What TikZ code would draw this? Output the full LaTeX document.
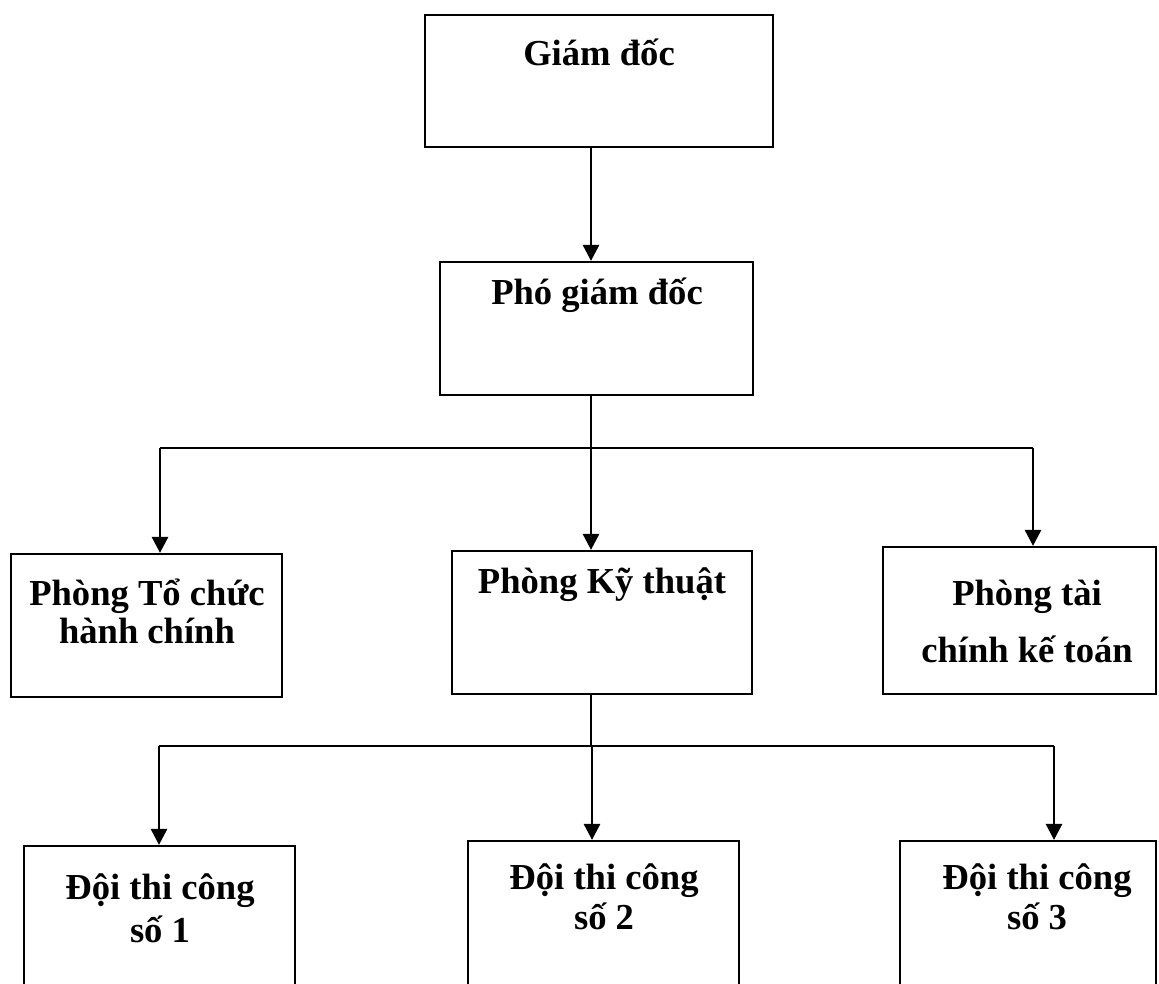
\documentclass[tikz,border=0pt]{standalone}
\usepackage{fontspec}
\setmainfont{Liberation Serif}
\usetikzlibrary{arrows.meta}

\tikzset{
  box/.style={draw=black,line width=1.1pt,inner sep=0pt,rectangle},
  lbl/.style={font=\fontsize{18.3}{20}\selectfont\bfseries,align=center,inner sep=0pt},
  arr/.style={draw=black,line width=1.4pt,-{Triangle[length=8pt,width=8pt]}},
  link/.style={draw=black,line width=1pt}
}

\begin{document}
\begin{tikzpicture}[x=0.5pt,y=-0.5pt]
    \useasboundingbox (0,0) rectangle (1159,983);
    % boxes
    \node[box,minimum width=174pt,minimum height=66pt] (gd) at (599,81) {};
    \node[box,minimum width=156.5pt,minimum height=66.5pt] (pgd) at (596.5,328.5) {};
    \node[box,minimum width=135.5pt,minimum height=71.5pt] (tc) at (146.5,625.5) {};
    \node[box,minimum width=150pt,minimum height=71.5pt] (kt) at (602,622.5) {};
    \node[box,minimum width=136.5pt,minimum height=73.5pt] (tcke) at (1019.5,620.5) {};
    \node[box,minimum width=135.5pt,minimum height=82pt] (d1) at (159.5,928) {};
    \node[box,minimum width=135.5pt,minimum height=84.5pt] (d2) at (603.5,925.5) {};
    \node[box,minimum width=128pt,minimum height=84.5pt] (d3) at (1028,925.5) {};
    % texts
    \node[lbl] (gd-t) at (599,52) {Giám đốc};
    \node[lbl] (pgd-t) at (597,295) {Phó giám đốc};
    \node[lbl] (tc-t) at (147,611) {Phòng Tổ chức\\[-1pt]hành chính};
    \node[lbl] (kt-t) at (602,585) {Phòng Kỹ thuật};
    \node[lbl] (tcke-t) at (1027,621) {Phòng tài\\[8.5pt]chính kế toán};
    \node[lbl] (d1-t) at (160,908) {Đội thi công\\[1.5pt]số 1};
    \node[lbl] (d2-t) at (604,897) {Đội thi công\\số 2};
    \node[lbl] (d3-t) at (1037,897) {Đội thi công\\số 3};
    % junctions
    \coordinate (j1) at (591,448);
    \coordinate (j1l) at (160,448);
    \coordinate (j1r) at (1033,448);
    \coordinate (j2) at (591,746);
    \coordinate (j2l) at (159,746);
    \coordinate (j2m) at (592,746);
    \coordinate (j2r) at (1054,746);
    % connectors
    \draw [arr] (gd.south -| j1) -- (pgd.north -| j1);
    \draw [link] (pgd.south -| j1) -- (j1);
    \draw [link] (j1l) -- (j1r);
    \draw [arr] (j1l) -- (tc.north -| j1l);
    \draw [arr] (j1) -- (kt.north -| j1);
    \draw [arr] (j1r) -- (tcke.north -| j1r);
    \draw [link] (kt.south -| j2) -- (j2);
    \draw [link] (j2l) -- (j2r);
    \draw [arr] (j2l) -- (d1.north -| j2l);
    \draw [arr] (j2m) -- (d2.north -| j2m);
    \draw [arr] (j2r) -- (d3.north -| j2r);
\end{tikzpicture}
\end{document}
